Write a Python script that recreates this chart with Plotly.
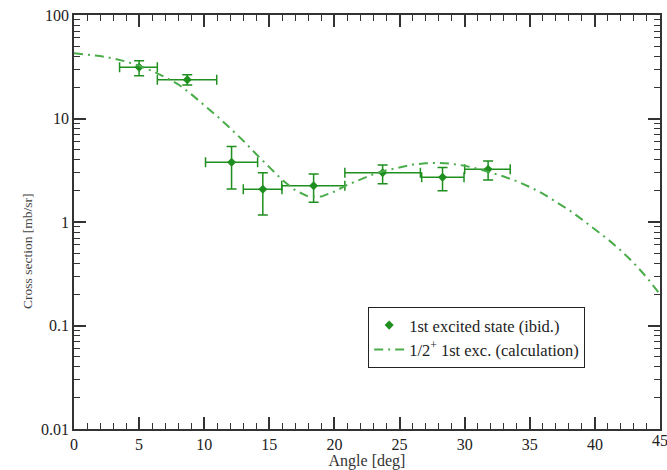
import plotly.graph_objects as go

# Data points (1st excited state)
angle = [5.0, 8.7, 12.1, 14.5, 18.4, 23.7, 28.3, 31.8]
xs = [31.3, 23.7, 3.78, 2.07, 2.24, 2.99, 2.71, 3.23]
x_lo = [3.5, 6.4, 10.1, 13.0, 15.95, 20.8, 26.7, 30.0]
x_hi = [6.4, 10.96, 14.1, 15.97, 20.8, 26.6, 29.95, 33.5]
y_lo = [25.9, 21.1, 2.08, 1.17, 1.55, 2.34, 2.0, 2.55]
y_hi = [36.1, 26.5, 5.35, 2.99, 2.91, 3.56, 3.37, 3.88]

# Calculation curve
calc_angle = list(range(0, 46))
calc_xs = [42.7, 41.7, 40.2, 38.1, 35.5, 32.4, 28.8, 25.1, 21.4, 17.2,
           13.5, 10.5, 8.04, 6.10, 4.52, 3.35, 2.54, 2.02, 1.76, 1.76,
           1.97, 2.29, 2.60, 2.90, 3.16, 3.39, 3.59, 3.70, 3.72, 3.65,
           3.50, 3.27, 3.00, 2.75, 2.48, 2.18, 1.88, 1.58, 1.31, 1.06,
           0.85, 0.68, 0.53, 0.40, 0.29, 0.20]

x_last_tick = 45
x_minor = list(range(0, 46))
y_minor = [m * d for d in [0.01, 0.1, 1, 10] for m in range(2, 10)]
y_title = "Cross section [mb/sr]"
x_title = "Angle [deg]"

data_color = "#1f8f1f"
calc_color = "#4aac4a"
axis_color = "#333333"
font_family = "Liberation Serif"

fig = go.Figure()

fig.add_trace(go.Scatter(
    x=angle, y=xs, mode="markers",
    marker=dict(symbol="diamond", size=7, color=data_color),
    error_x=dict(type="data", symmetric=False,
                 array=[h - a for h, a in zip(x_hi, angle)],
                 arrayminus=[a - l for l, a in zip(x_lo, angle)],
                 color=data_color, thickness=1.5, width=5),
    error_y=dict(type="data", symmetric=False,
                 array=[h - v for h, v in zip(y_hi, xs)],
                 arrayminus=[v - l for l, v in zip(y_lo, xs)],
                 color=data_color, thickness=1.5, width=5),
    name="1st excited state (ibid.)",
))

fig.add_trace(go.Scatter(
    x=calc_angle, y=calc_xs, mode="lines",
    line=dict(color=calc_color, width=2, dash="9px,5px,2px,5px"),
    name="1/2<sup>+</sup> 1st exc. (calculation)",
))

# empty trace carrying the overlay axes used for minor ticks
fig.add_trace(go.Scatter(x=[None], y=[None], xaxis="x2", yaxis="y2",
                         showlegend=False, hoverinfo="skip"))

axis_common = dict(
    showgrid=False, zeroline=False, showline=True, linecolor=axis_color,
    linewidth=1.5, mirror="allticks", ticks="inside", ticklen=12,
    tickcolor=axis_color, tickwidth=1.5, automargin=False,
    tickfont=dict(family=font_family, size=16, color="#222222"),
)

fig.update_layout(
    xaxis=dict(
        range=[0, 45], tickmode="linear", tick0=0, dtick=5,
        title=dict(text=x_title, font=dict(family=font_family, size=16, color="#333333"), standoff=2),
        **axis_common,
    ),
    yaxis=dict(
        type="log", range=[-2, 2], tickmode="linear", tick0=0, dtick=1,
        **axis_common,
    ),
    xaxis2=dict(
        overlaying="x", range=[0, 45], tickmode="array", tickvals=x_minor,
        ticks="inside", ticklen=6, tickwidth=1.2, tickcolor=axis_color,
        showticklabels=False, showgrid=False, zeroline=False,
        showline=False, mirror="allticks", side="bottom", automargin=False,
    ),
    yaxis2=dict(
        overlaying="y", type="log", range=[-2, 2], tickmode="array", tickvals=y_minor,
        ticks="inside", ticklen=6, tickwidth=1.2, tickcolor=axis_color,
        showticklabels=False, showgrid=False, zeroline=False,
        showline=False, mirror="allticks", side="left", automargin=False,
    ),
)

# y-axis title (sits below the plot's vertical centre in the reference)
fig.add_annotation(x=-0.0785, y=0.43, xref="paper", yref="paper", text=y_title,
                   textangle=-90, showarrow=False, xanchor="center", yanchor="middle",
                   font=dict(family=font_family, size=13.5, color="#444444"))

# last x tick label sits at the right edge and is cut by the page edge
fig.add_annotation(x=x_last_tick, y=0, xref="x", yref="paper", text=str(x_last_tick),
                   showarrow=False, yanchor="top", xanchor="center", yshift=-1,
                   font=dict(family=font_family, size=16, color="#222222"))

fig.update_layout(
    width=667, height=470,
    margin=dict(l=74, r=7, t=15, b=41),
    paper_bgcolor="white", plot_bgcolor="white",
    font=dict(family=font_family, color="#222222"),
    legend=dict(
        x=0.502, y=0.295, xanchor="left", yanchor="top",
        bgcolor="white", bordercolor="#222222", borderwidth=1,
        font=dict(family=font_family, size=16.5, color="#222222"),
        tracegroupgap=0, itemwidth=30,
    ),
)

fig.write_html("out.html")
